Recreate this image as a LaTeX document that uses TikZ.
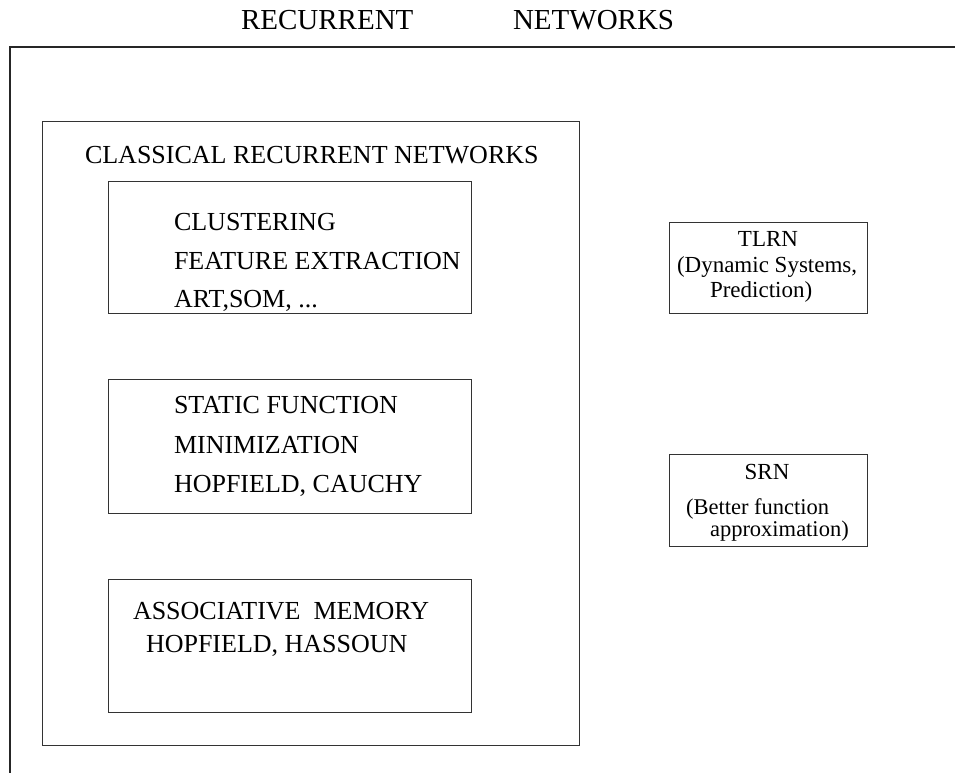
\documentclass[tikz,border=0pt]{standalone}
\usepackage{fontspec}
\setmainfont{Liberation Serif}
\begin{document}
\begin{tikzpicture}[x=1pt,y=-1pt,
  frame/.style={draw=black!85,line width=1.2pt},
  box/.style={draw=black!80,line width=1pt,rectangle,inner sep=0pt,outer sep=0pt,anchor=north west},
  txt/.style={anchor=base west,inner sep=0pt,outer sep=0pt,font=\fontsize{26}{30}\selectfont},
  ttl/.style={anchor=base west,inner sep=0pt,outer sep=0pt,font=\fontsize{29}{33}\selectfont},
  side/.style={anchor=base west,inner sep=0pt,outer sep=0pt,font=\fontsize{23}{26}\selectfont},
  sidec/.style={anchor=base,inner sep=0pt,outer sep=0pt,font=\fontsize{23}{26}\selectfont}]
\useasboundingbox (0,0) rectangle (955,773);
% title
\node[ttl] (t1) at (241,30) {RECURRENT};
\node[ttl] (t2) at (513,30) {NETWORKS};
% outer frame (open to the right and bottom)
\coordinate (fr) at (955,47);
\coordinate (fc) at (10,47);
\coordinate (fb) at (10,773);
\draw[frame] (fr) -- (fc) -- (fb);
% classical box
\node[box,minimum width=537pt,minimum height=623pt] (cls) at (42,122) {};
\node[txt] (clst) at (85,163) {CLASSICAL RECURRENT NETWORKS};
% box 1
\node[box,minimum width=363pt,minimum height=132pt] (b1) at (108,181) {};
\node[txt] (b1a) at (174,230) {CLUSTERING};
\node[txt] (b1b) at (174,269) {FEATURE EXTRACTION};
\node[txt] (b1c) at (174,307) {ART,SOM, ...};
% box 2
\node[box,minimum width=363pt,minimum height=134pt] (b2) at (108,379) {};
\node[txt] (b2a) at (174,413) {STATIC FUNCTION};
\node[txt] (b2b) at (174,453) {MINIMIZATION};
\node[txt] (b2c) at (174,492) {HOPFIELD, CAUCHY};
% box 3
\node[box,minimum width=363pt,minimum height=133pt] (b3) at (108,579) {};
\node[txt] (b3a) at (133,619) {ASSOCIATIVE\ \ MEMORY};
\node[txt] (b3b) at (146,652) {HOPFIELD, HASSOUN};
% TLRN
\node[box,minimum width=198pt,minimum height=91pt] (tl) at (669,222) {};
\node[sidec] (tla) at (768,246) {TLRN};
\node[side] (tlb) at (677,272) {(Dynamic Systems,};
\node[side] (tlc) at (710,297) {Prediction)};
% SRN
\node[box,minimum width=198pt,minimum height=92pt] (sr) at (669,454) {};
\node[sidec] (sra) at (767,479) {SRN};
\node[side,font=\fontsize{22.5}{26}\selectfont] (srb) at (686,514) {(Better function};
\node[side,font=\fontsize{22.5}{26}\selectfont] (src) at (710,536) {approximation)};
\end{tikzpicture}
\end{document}
